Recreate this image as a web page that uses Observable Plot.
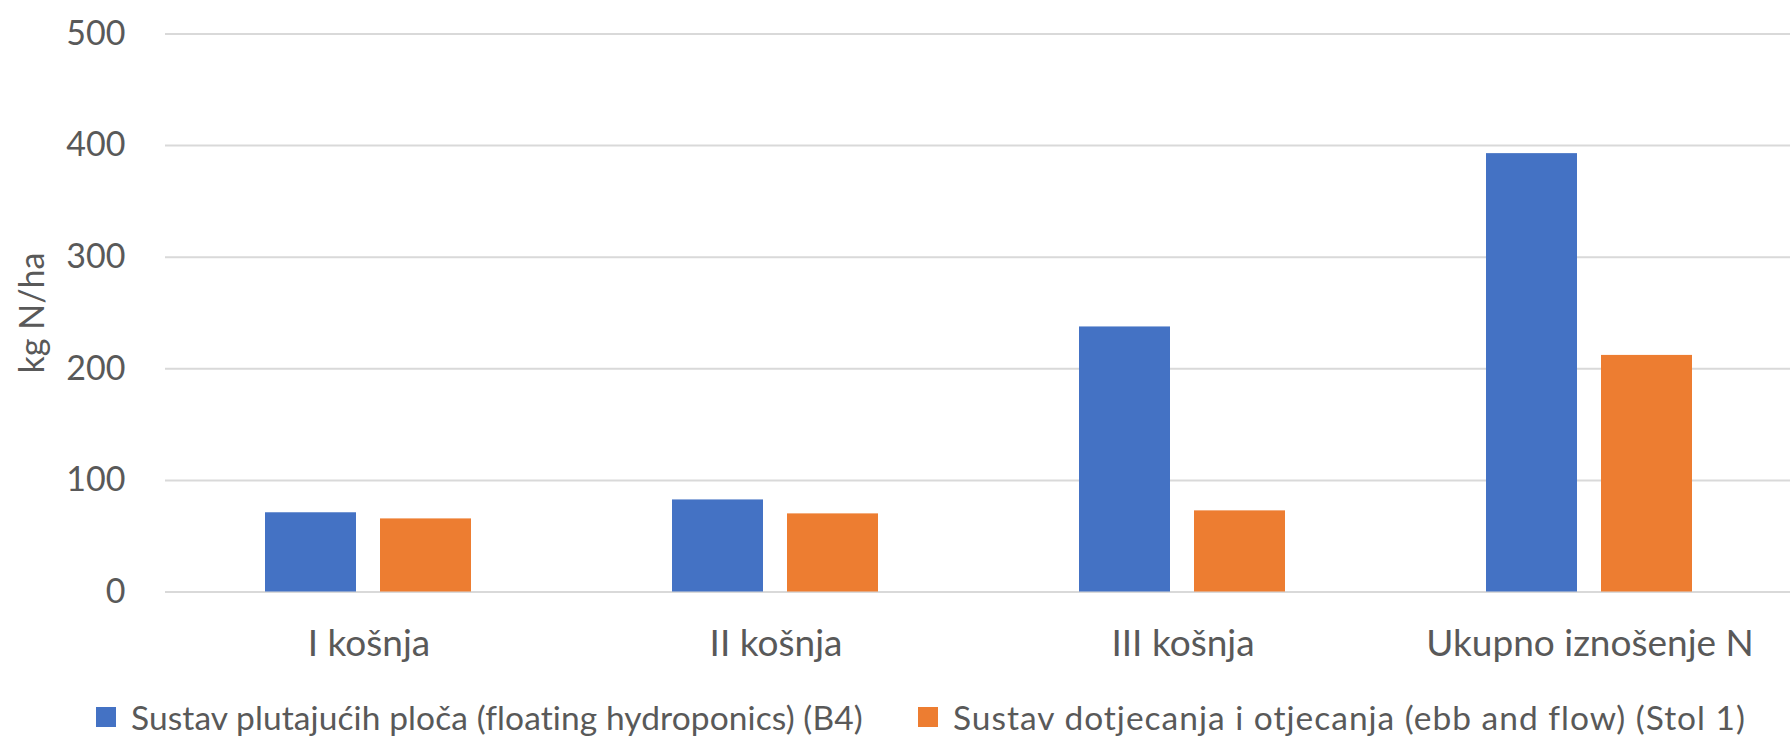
<!DOCTYPE html>
<html>
<head>
<meta charset="utf-8">
<script src="https://cdn.jsdelivr.net/npm/d3@7"></script>
<script src="https://cdn.jsdelivr.net/npm/@observablehq/plot@0.6"></script>
<style>
  html, body { margin: 0; padding: 0; background: #fff; overflow: hidden; }
  #chart svg { display: block; }
  #legend { position: relative; height: 37px; font-family: Lato, "Open Sans", sans-serif; font-size: 33.5px; color: #595959; }
  .item { position: absolute; top: 0; height: 34px; display: flex; align-items: center; white-space: nowrap; line-height: 34px; }
  .sw { width: 20px; height: 20px; display: inline-block; margin-right: 15px; }
</style>
</head>
<body>
<div id="chart"></div>
<div id="legend"></div>
<script>
const categories = ["I košnja", "II košnja", "III košnja", "Ukupno iznošenje N"];
const seriesNames = [
  "Sustav plutajućih ploča (floating hydroponics) (B4)",
  "Sustav dotjecanja i otjecanja (ebb and flow) (Stol 1)"
];
const floatingValues = [71, 82.5, 237.5, 392.8];
const ebbFlowValues = [65.5, 70, 72.7, 212];
const seriesColors = ["#4472C4", "#ED7D31"];
const yTicks = [0, 100, 200, 300, 400, 500];

const data = [];
categories.forEach((c, i) => {
  data.push({cat: c, series: seriesNames[0], value: floatingValues[i]});
  data.push({cat: c, series: seriesNames[1], value: ebbFlowValues[i]});
});

const chart = Plot.plot({
  width: 1790,
  height: 700,
  marginTop: 33.5,
  marginBottom: 108.5,
  marginLeft: 164,
  marginRight: -3,
  style: {fontFamily: "Lato, 'Open Sans', sans-serif", fontSize: "34px", color: "#595959", background: "#fff"},
  fx: {domain: categories, paddingInner: 0, paddingOuter: 0, label: null},
  x: {domain: seriesNames, paddingInner: 0.208, paddingOuter: 0.867, axis: null},
  y: {domain: [0, 500], ticks: yTicks, label: null},
  color: {domain: seriesNames, range: seriesColors},
  marks: [
    Plot.gridY(yTicks, {stroke: "#D9D9D9", strokeOpacity: 1, strokeWidth: 2}),
    Plot.axisY(yTicks, {tickSize: 0, tickPadding: 40, fill: "#595959", fontSize: 34,
      label: "kg N/ha", labelAnchor: "center", labelArrow: "none", labelOffset: 146}),
    Plot.axisFx({anchor: "bottom", tickSize: 0, tickPadding: 38, fill: "#595959", fontSize: 37, label: null}),
    Plot.barY(data, {fx: "cat", x: "series", y: "value", fill: "series"})
  ]
});
document.getElementById("chart").appendChild(chart);

const legend = document.getElementById("legend");
const lefts = [96, 918];
const spacing = ["0.1px", "1px"];
seriesNames.forEach((name, i) => {
  const item = document.createElement("div");
  item.className = "item";
  item.style.left = lefts[i] + "px";
  const sw = document.createElement("span");
  sw.className = "sw";
  sw.style.background = seriesColors[i];
  item.appendChild(sw);
  const t = document.createElement("span");
  t.textContent = name;
  t.style.letterSpacing = spacing[i];
  item.appendChild(t);
  legend.appendChild(item);
});
</script>
</body>
</html>
